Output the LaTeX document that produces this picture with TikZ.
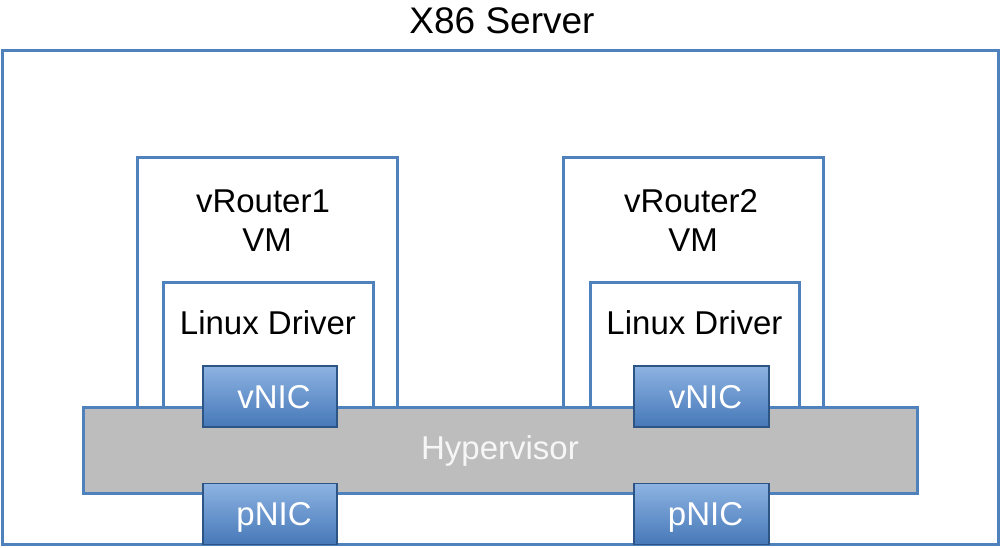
\documentclass[tikz,border=0pt]{standalone}
\usepackage{fontspec}
\setmainfont{Liberation Sans}
\definecolor{frameblue}{HTML}{4F81BD}
\definecolor{nicdark}{HTML}{2C5585}
\definecolor{nictop}{HTML}{8DB3E2}
\definecolor{nicbot}{HTML}{4678B8}
\definecolor{hypgrey}{HTML}{BDBDBD}
\definecolor{hyptext}{HTML}{F6F6F6}
\begin{document}
\begin{tikzpicture}[x=1pt,y=-1pt,
  box/.style={draw=frameblue,line width=3pt,rectangle,inner sep=0pt},
  nic/.style={draw=nicdark,line width=1.6pt,rectangle,top color=nictop,bottom color=nicbot,
    minimum height=61pt,inner sep=0pt,text=white,text height=23.5pt,text depth=0pt,
    font=\fontsize{33}{39}\selectfont},
  lbl/.style={anchor=base,inner sep=0pt,font=\fontsize{33}{39}\selectfont}]
\useasboundingbox (0,0) rectangle (1002,547);
% title
\node[lbl,font=\fontsize{37}{43}\selectfont] (title) at (502,33) {X86 Server};
% outer server frame
\node[box,minimum width=996pt,minimum height=494pt] (server) at (500,297) {};
% VMs
\node[box,fill=white,minimum width=260pt,minimum height=263pt] (vm1) at (267,288.5) {};
\node[box,fill=white,minimum width=260pt,minimum height=263pt] (vm2) at (693,288.5) {};
\node[lbl] (vm1a) at (263,212) {vRouter1};
\node[lbl] (vm1b) at (267,251) {VM};
\node[lbl] (vm2a) at (691,212) {vRouter2};
\node[lbl] (vm2b) at (693,251) {VM};
% Linux drivers
\node[box,fill=white,minimum width=210pt,minimum height=138pt] (ld1) at (268,351) {};
\node[box,fill=white,minimum width=209pt,minimum height=138pt] (ld2) at (694.5,351) {};
\node[lbl] (ld1t) at (268,334) {Linux Driver};
\node[lbl] (ld2t) at (694.5,334) {Linux Driver};
% hypervisor
\node[box,fill=hypgrey,minimum width=834pt,minimum height=86pt] (hyp) at (500,450) {};
\node[lbl,text=hyptext] (hypt) at (500,459) {Hypervisor};
% NICs
\node[nic,minimum width=134pt] (vnic1) at (270,396.5) {\hspace*{8pt}vNIC};
\node[nic,minimum width=135pt] (vnic2) at (701.5,396.5) {\hspace*{8pt}vNIC};
\node[nic,minimum width=134pt] (pnic1) at (270,514) {\hspace*{8pt}pNIC};
\node[nic,minimum width=135pt] (pnic2) at (701.5,514) {\hspace*{8pt}pNIC};
\end{tikzpicture}
\end{document}
